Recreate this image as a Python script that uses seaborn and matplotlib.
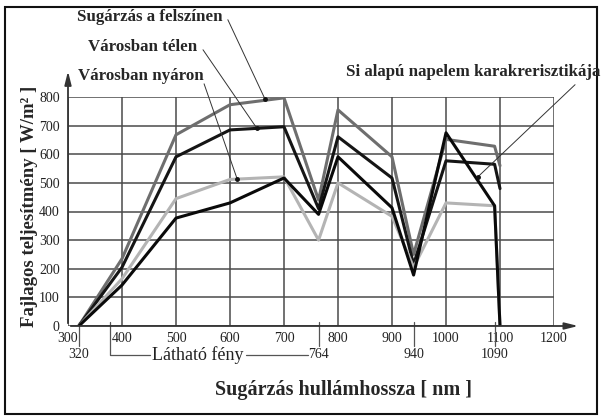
import matplotlib
matplotlib.use("Agg")
import matplotlib.pyplot as plt
import seaborn as sns
import pandas as pd
from matplotlib.patches import Rectangle

# Data
x_main = [320, 400, 500, 600, 700, 764, 800, 900, 940, 1000, 1090, 1100]
surface = [0, 235, 668, 773, 797, 440, 755, 591, 250, 652, 628, 560]
winter = [0, 205, 591, 685, 696, 410, 661, 517, 215, 577, 565, 480]
summer = [0, 165, 445, 512, 521, 300, 500, 383, 205, 430, 420, 0]
si_curve = [0, 143, 377, 430, 517, 390, 591, 413, 178, 675, 420, 0]

series_names = ["Sugárzás a felszínen", "Városban télen", "Városban nyáron",
                "Si alapú napelem karakrerisztikája"]
series_colors = ["#6e6e6e", "#151515", "#b4b4b4", "#0a0a0a"]

x_ticks = [300, 400, 500, 600, 700, 800, 900, 1000, 1100, 1200]
y_ticks = [0, 100, 200, 300, 400, 500, 600, 700, 800]
extra_marks = [320, 764, 940, 1090]

SERIF = ["Liberation Serif", "DejaVu Serif"]

sns.set_style("white")
plt.rcParams["font.family"] = SERIF

W, H = 601, 416
fig = plt.figure(figsize=(W / 100, H / 100), dpi=100)
ax = fig.add_axes([68 / W, 90 / H, 486 / W, 229 / H])

df = pd.DataFrame({"x": x_main * 4,
                   "y": surface + winter + summer + si_curve,
                   "series": [n for n in series_names for _ in x_main]})

for name, col in zip(series_names, series_colors):
    sub = df[df["series"] == name]
    sns.lineplot(data=sub, x="x", y="y", ax=ax, color=col, lw=2.2,
                 sort=False, estimator=None, legend=False, zorder=3)

ax.set_xlim(300, 1200)
ax.set_ylim(0, 800)
ax.set_xticks(x_ticks)
ax.set_yticks(y_ticks)
ax.set_xticklabels([str(t) for t in x_ticks])
ax.set_yticklabels([str(t) for t in y_ticks])
ax.grid(True, color="#4a4a4a", lw=1.1, zorder=1)
for s in ax.spines.values():
    s.set_visible(False)
ax.tick_params(axis="x", length=0, pad=4, labelsize=10, colors="#222")
ax.tick_params(axis="y", length=5, width=1.1, color="#4a4a4a", pad=1,
               labelsize=10, labelcolor="#222")
ax.set_xlabel("")
ax.set_ylabel("")

# axes with arrows
ax.annotate("", xy=(1250, 0), xytext=(300, 0), annotation_clip=False,
            arrowprops=dict(arrowstyle="-|>,head_length=0.8,head_width=0.2",
                            color="#333", lw=1.3))
ax.annotate("", xy=(300, 900), xytext=(300, 0), annotation_clip=False,
            arrowprops=dict(arrowstyle="-|>,head_length=0.8,head_width=0.2",
                            color="#333", lw=1.3))

# extra wavelength markers below the axis
for m in extra_marks:
    ax.plot([m, m], [15, -70], color="#555", lw=0.9, clip_on=False)
    ax.text(m, -100, str(m), ha="center", va="center", fontsize=10,
            color="#222")

# visible light bracket
ax.plot([378, 378, 452], [15, -102, -102], color="#555", lw=0.9, clip_on=False)
ax.plot([630, 745], [-102, -102], color="#555", lw=0.9, clip_on=False)
ax.text(541, -102, "Látható fény", ha="center", va="center", fontsize=13,
        color="#222")

# pointer lines to the curves
pointers = [((596, 1070), (665, 792)),
            ((550, 965), (650, 690)),
            ((552, 846), (613, 515)),
            ((1239, 843), (1059, 521))]
for (x0, y0), (x1, y1) in pointers:
    ax.plot([x0, x1], [y0, y1], color="#333", lw=0.7, clip_on=False, zorder=4)
    ax.plot([x1], [y1], marker="o", ms=2.5, color="#111", clip_on=False, zorder=4)

# curve labels
fig.text(150 / W, 1 - 17 / H, series_names[0], ha="center", va="center",
         fontsize=12.2, fontweight="bold")
fig.text(143 / W, 1 - 47 / H, series_names[1], ha="center", va="center",
         fontsize=12.2, fontweight="bold")
fig.text(141 / W, 1 - 76 / H, series_names[2], ha="center", va="center",
         fontsize=12.2, fontweight="bold")
fig.text(473 / W, 1 - 72 / H, series_names[3], ha="center", va="center",
         fontsize=12.2, fontweight="bold")

fig.text(30 / W, 1 - 206 / H, "Fajlagos teljesítmény [ W/m² ]", rotation=90,
         ha="center", va="center", fontsize=13.5, fontweight="bold")
fig.text(343 / W, 1 - 390 / H, "Sugárzás hullámhossza [ nm ]", ha="center",
         va="center", fontsize=14.5, fontweight="bold")

# outer frame
fig.patches.append(Rectangle((5 / W, 2 / H), 592 / W, 407 / H,
                             transform=fig.transFigure, fill=False,
                             edgecolor="#111", lw=1.5))

fig.savefig("out.png", dpi=100)
